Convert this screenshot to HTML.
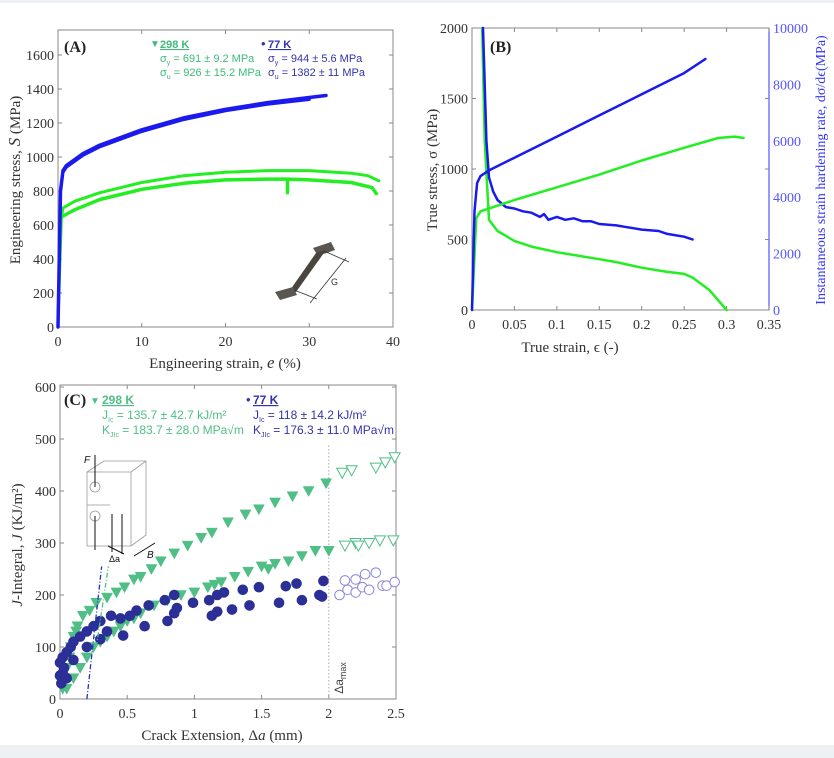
<!DOCTYPE html>
<html><head><meta charset="utf-8">
<style>
body{margin:0;background:#fff;}
svg{display:block;font-family:"Liberation Serif",serif;}
.s{font-family:"Liberation Sans",sans-serif;}
</style></head>
<body>
<svg id="fig" width="834" height="758" viewBox="0 0 834 758">
<rect x="0" y="0" width="834" height="3" fill="#eef1f4"/>
<rect x="0" y="745" width="834" height="13" fill="#eef1f4"/>
<g id="gA"></g>
<g id="gB"></g>
<g id="gC"></g>
</svg>
<script>
// ---- Panel A data ----
const aXTicks=[0,10,20,30,40];
const aYTicks=[0,200,400,600,800,1000,1200,1400,1600];
const aBlue1X=[0,0.3,0.6,1,3,5,10,15,20,25,30,32];
const aBlue1Y=[0,800,920,950,1020,1070,1160,1230,1280,1320,1350,1362];
const aBlue2X=[0.6,1,3,5,10,15,20,25,30];
const aBlue2Y=[910,940,1010,1060,1150,1220,1272,1310,1338];
const aGreen1X=[0,0.4,0.6,2,5,10,15,20,25,30,35,37,38.3];
const aGreen1Y=[40,650,700,740,790,850,890,910,920,920,905,890,860];
const aGreen2X=[0.5,2,5,10,15,20,25,27.4,27.4,27.4,30,35,37.5,38];
const aGreen2Y=[650,690,750,810,845,865,870,870,790,870,865,850,820,785];
// ---- Panel B data ----
const bXTicks=[0,0.05,0.1,0.15,0.2,0.25,0.3,0.35];
const bYTicks=[0,500,1000,1500,2000];
const bY2Ticks=[0,2000,4000,6000,8000,10000];
const bGreenSX=[0,0.005,0.01,0.05,0.1,0.15,0.2,0.25,0.29,0.31,0.32];
const bGreenSY=[0,650,700,780,870,960,1060,1150,1220,1230,1220];
const bBlueSX=[0,0.003,0.006,0.01,0.02,0.05,0.1,0.15,0.2,0.25,0.275];
const bBlueSY=[0,700,900,950,990,1080,1230,1380,1530,1680,1780];
const bGreenHX=[0.012,0.015,0.02,0.03,0.05,0.07,0.1,0.12,0.15,0.17,0.2,0.23,0.25,0.26,0.28,0.3];
const bGreenHY=[10000,6000,3200,2800,2450,2250,2050,1950,1800,1700,1500,1350,1280,1150,700,0];
const bBlueHX=[0.013,0.017,0.02,0.025,0.03,0.04,0.05,0.06,0.07,0.08,0.085,0.09,0.1,0.11,0.12,0.13,0.14,0.15,0.17,0.18,0.2,0.22,0.23,0.25,0.26];
const bBlueHY=[10000,6000,4700,4200,3900,3650,3600,3500,3450,3300,3400,3200,3300,3200,3250,3150,3150,3050,3000,2950,2850,2800,2700,2600,2500];
// ---- Panel C data ----
const cXTicks=[0,0.5,1,1.5,2,2.5];
const cXLabels=["0","0.5","1","1.5","2","2.5"];
const cYTicks=[0,100,200,300,400,500,600];
const cG1X=[0.35,0.42,0.48,0.55,0.6,0.68,0.75,0.85,0.95,1.05,1.13,1.25,1.38,1.48,1.6,1.73,1.85,1.98];
const cG1Y=[195,205,215,230,235,250,265,280,295,310,320,340,355,365,378,390,400,415];
const cG1OX=[2.1,2.17,2.35,2.42,2.49];
const cG1OY=[435,440,445,455,465];
const cG2X=[0.3,0.35,0.4,0.45,0.5,0.55,0.6,0.7,0.8,0.9,1.0,1.1,1.15,1.2,1.3,1.4,1.5,1.55,1.6,1.7,1.8,1.9,2.0,0.02,0.05,0.08,0.1,0.13,0.17,0.22,0.27,0.05,0.1,0.15,0.2,0.25,0.03,0.07,0.12];
const cG2Y=[110,120,130,140,150,155,165,180,190,200,205,215,220,225,235,245,255,250,260,265,275,285,285,20,60,100,120,140,160,170,185,20,40,60,80,100,40,80,130];
const cG2OX=[2.12,2.2,2.22,2.3,2.38,2.48];
const cG2OY=[295,300,295,300,305,305];
const cBX=[0,0.02,0.05,0.08,0.1,0.15,0.2,0.25,0.3,0.38,0.45,0.35,0.3,0.47,0.52,0.57,0.63,0.66,0.78,0.8,0.85,0.87,0.85,0.99,1.11,1.13,1.17,1.17,1.22,1.28,1.36,1.41,1.48,1.63,1.68,1.76,1.8,1.93,1.95,1.96,0.01,0.02,0.03,0.05,0.0,0.1,0.2];
const cBY=[70,50,90,100,110,120,130,140,150,160,155,130,115,122,160,170,140,180,190,150,165,175,200,185,190,160,168,200,205,172,210,180,215,185,217,222,190,200,197,227,30,80,60,40,45,75,100];
const cBOX=[2.08,2.12,2.14,2.2,2.2,2.25,2.27,2.3,2.35,2.4,2.43,2.49];
const cBOY=[200,228,210,205,230,215,240,210,243,218,218,225];

const NS="http://www.w3.org/2000/svg";
function mk(par,tag,at,txt){const e=document.createElementNS(NS,tag);for(const k in at)e.setAttribute(k,at[k]);if(txt!==undefined)e.textContent=txt;par.appendChild(e);return e;}
function lin(d0,d1,r0,r1){return v=>r0+(v-d0)*(r1-r0)/(d1-d0);}
function pathD(xs,ys,sx,sy){return xs.map((x,i)=>(i?'L':'M')+sx(x).toFixed(1)+','+sy(ys[i]).toFixed(1)).join('');}
function box(g,x0,y0,x1,y1){
  const r=mk(g,'rect',{x:x0,y:y0,width:x1-x0,height:y1-y0,fill:'none',stroke:'#888','stroke-width':1});
  
  
}
function xAxis(g,ticks,labels,sx,y0,y1,name){
  ticks.forEach((t,i)=>{
    mk(g,'line',{x1:sx(t),x2:sx(t),y1:y1,y2:y1-4,stroke:'#888'});
    mk(g,'line',{x1:sx(t),x2:sx(t),y1:y0,y2:y0+4,stroke:'#888'});
    const tx=mk(g,'text',{x:sx(t),y:y1+19,'font-size':14,'text-anchor':'middle',fill:'#333'},labels[i]);
    
    
  });
}
function yAxis(g,ticks,sy,x0,x1,name,col,right){
  ticks.forEach(t=>{
    mk(g,'line',{x1:x0,x2:x0+4,y1:sy(t),y2:sy(t),stroke:'#888'});
    mk(g,'line',{x1:x1,x2:x1-4,y1:sy(t),y2:sy(t),stroke:'#888'});
    const tx=mk(g,'text',{x:right?x1+4:x0-4,y:sy(t)+5,'font-size':14,'text-anchor':right?'start':'end',fill:col||'#333'},String(t));
    
    
  });
}
function line(g,xs,ys,sx,sy,col,w,name){
  const p=mk(g,'path',{d:pathD(xs,ys,sx,sy),fill:'none',stroke:col,'stroke-width':w,'stroke-linejoin':'round','stroke-linecap':'round'});
  
  
}
function sub(par,x,y,col,a,s,b){const t=mk(par,'text',{x:x,y:y,fill:col},a);mk(t,'tspan',{'font-size':7,dy:3},s);mk(t,'tspan',{dy:-3},b);return t;}
// ===== Panel A =====
(function(){
const g=document.getElementById('gA');
const sx=lin(0,40,58,393), sy=lin(0,1600,327,55);
box(g,58,30,393,327);
xAxis(g,aXTicks,aXTicks.map(String),sx,30,327,'a-x');
yAxis(g,aYTicks,sy,58,393,'a-y');
line(g,aGreen1X,aGreen1Y,sx,sy,'#22ee22',3,'a-298k-curve-1');
line(g,aGreen2X,aGreen2Y,sx,sy,'#22ee22',3.5,'a-298k-curve-2');
line(g,aBlue2X,aBlue2Y,sx,sy,'#1a1aee',3,'a-77k-curve-2');
line(g,aBlue1X,aBlue1Y,sx,sy,'#1a1aee',3.5,'a-77k-curve-1');
let t=mk(g,'text',{x:64,y:52,'font-size':16,'font-weight':'bold',fill:'#222'},'(A)');

t=mk(g,'text',{x:225,y:368,'font-size':15,'text-anchor':'middle',fill:'#333'},'Engineering strain, ');
mk(t,'tspan',{'font-style':'italic','font-size':17},'e');mk(t,'tspan',{},' (%)');

t=mk(g,'text',{transform:'translate(20,180) rotate(-90)','font-size':15,'text-anchor':'middle',fill:'#333'},'Engineering stress, ');
mk(t,'tspan',{'font-style':'italic','font-size':17},'S');mk(t,'tspan',{},' (MPa)');

const lg=mk(g,'g',{class:'s','font-size':11});

mk(lg,'text',{x:150,y:47,fill:'#3dbb7a','font-size':10},'▼');
mk(lg,'text',{x:160,y:48,fill:'#3dbb7a','font-weight':'bold','text-decoration':'underline'},'298 K');
sub(lg,160,62,'#3dbb7a','σ','y',' = 691 ±  9.2 MPa');
sub(lg,160,76,'#3dbb7a','σ','u',' = 926 ± 15.2 MPa');
mk(lg,'text',{x:261,y:48,fill:'#3333aa','font-size':13},'•');
mk(lg,'text',{x:268,y:48,fill:'#3333aa','font-weight':'bold','text-decoration':'underline'},'77 K');
sub(lg,268,62,'#3333aa','σ','y',' = 944 ± 5.6 MPa');
sub(lg,268,76,'#3333aa','σ','u',' = 1382 ± 11 MPa');
// specimen inset
const ins=mk(g,'g',{});

mk(ins,'polygon',{points:'313,248 331,242 335,250 318,256',fill:'#5a5650'});
mk(ins,'polygon',{points:'316,253 326,250 296,292 288,293',fill:'#4a463f'});
mk(ins,'polygon',{points:'275,292 293,287 297,295 280,300',fill:'#5a5650'});
mk(ins,'line',{x1:324,y1:251,x2:349,y2:262,stroke:'#333','stroke-width':0.8});
mk(ins,'line',{x1:294,y1:290,x2:317,y2:299,stroke:'#333','stroke-width':0.8});
mk(ins,'line',{x1:346,y1:258,x2:310,y2:303,stroke:'#333','stroke-width':0.8});
mk(ins,'text',{x:331,y:285,'font-size':9,class:'s',fill:'#333'},'G');
})();
// ===== Panel B =====
(function(){
const g=document.getElementById('gB');
const sx=lin(0,0.35,472,769), sy=lin(0,2000,310,28), sy2=lin(0,10000,310,28);
box(g,472,28,769,310);
mk(g,'line',{x1:769,x2:769,y1:28,y2:310,stroke:'#5555ff','stroke-width':1.2});
xAxis(g,bXTicks,bXTicks.map(String),sx,28,310,'b-x');
yAxis(g,bYTicks,sy,472,769,'b-y');
bY2Ticks.forEach(t=>{const tx=mk(g,'text',{x:773,y:sy2(t)+5,'font-size':14,fill:'#5555ff'},String(t));
});
line(g,bGreenHX,bGreenHY,sx,sy2,'#22ee22',2.5,'b-298k-hardening-rate');
line(g,bBlueHX,bBlueHY,sx,sy2,'#1a1aee',2.5,'b-77k-hardening-rate');
line(g,bGreenSX,bGreenSY,sx,sy,'#22ee22',2.5,'b-298k-true-stress');
line(g,bBlueSX,bBlueSY,sx,sy,'#1a1aee',2.5,'b-77k-true-stress');
let t=mk(g,'text',{x:490,y:52,'font-size':16,'font-weight':'bold',fill:'#222'},'(B)');

t=mk(g,'text',{x:570,y:352,'font-size':15,'text-anchor':'middle',fill:'#333'},'True strain, ϵ (-)');

t=mk(g,'text',{transform:'translate(437,170) rotate(-90)','font-size':15,'text-anchor':'middle',fill:'#333'},'True stress, σ (MPa)');

t=mk(g,'text',{transform:'translate(825,170) rotate(-90)','font-size':14,'text-anchor':'middle',fill:'#3333ff'},'Instantaneous strain hardening rate, dσ/dϵ(MPa)');

})();
// ===== Panel C =====
(function(){
const g=document.getElementById('gC');
const sx=lin(0,2.5,60,396), sy=lin(0,600,699,387);
box(g,60,385,396,699);
xAxis(g,cXTicks,cXLabels,sx,385,699,'c-x');
yAxis(g,cYTicks,sy,60,396,'c-y');
mk(g,'line',{x1:sx(2),x2:sx(2),y1:sy(0),y2:sy(490),stroke:'#aaa','stroke-dasharray':'1.5,2'});
const tri=(x,y,fill,name)=>{const cx=sx(x),cy=sy(y);
 const p=mk(g,'polygon',{points:`${cx-5.5},${cy-4.5} ${cx+5.5},${cy-4.5} ${cx},${cy+5.5}`,fill:fill?'#4fbf86':'#fff',stroke:'#4fbf86','stroke-width':fill?0.5:1});
 };
const cir=(x,y,fill,name)=>{const c=mk(g,'circle',{cx:sx(x),cy:sy(y),r:4.8,fill:fill?'#2b2f96':'#fff',stroke:fill?'#2b2f96':'#8a88d8','stroke-width':1});
 };
cG2X.forEach((x,i)=>tri(x,cG2Y[i],true,'c-298k-point'));
cG1X.forEach((x,i)=>tri(x,cG1Y[i],true,'c-298k-point'));
cG1OX.forEach((x,i)=>tri(x,cG1OY[i],false,'c-298k-invalid-point'));
cG2OX.forEach((x,i)=>tri(x,cG2OY[i],false,'c-298k-invalid-point'));
cBX.forEach((x,i)=>cir(x,cBY[i],true,'c-77k-point'));
cBOX.forEach((x,i)=>cir(x,cBOY[i],false,'c-77k-invalid-point'));
let l=mk(g,'line',{x1:sx(0.2),y1:sy(0),x2:sx(0.31),y2:sy(255),stroke:'#2233bb','stroke-width':1.3,'stroke-dasharray':'5,2,1,2'});

l=mk(g,'line',{x1:sx(0.27),y1:sy(100),x2:sx(0.36),y2:sy(255),stroke:'#4fbf86','stroke-width':1.3,'stroke-dasharray':'5,2,1,2'});

let t=mk(g,'text',{transform:`translate(${sx(2)+14},${sy(10)}) rotate(-90)`,'font-size':12,class:'s',fill:'#444'},'Δa');
mk(t,'tspan',{'font-size':9,dy:3},'max');

t=mk(g,'text',{x:64,y:405,'font-size':16,'font-weight':'bold',fill:'#222'},'(C)');

t=mk(g,'text',{x:222,y:740,'font-size':15,'text-anchor':'middle',fill:'#333'},'Crack Extension, Δ');
mk(t,'tspan',{'font-style':'italic'},'a');mk(t,'tspan',{},' (mm)');

t=mk(g,'text',{transform:'translate(22,545) rotate(-90)','font-size':15,'text-anchor':'middle',fill:'#333'},'');
mk(t,'tspan',{'font-style':'italic'},'J');mk(t,'tspan',{},'-Integral, ');mk(t,'tspan',{'font-style':'italic'},'J');mk(t,'tspan',{},' (KJ/m²)');

const lg=mk(g,'g',{class:'s','font-size':12});

mk(lg,'text',{x:90,y:404,fill:'#4fbf86','font-size':10},'▼');
mk(lg,'text',{x:102,y:404,fill:'#4fbf86','font-weight':'bold','text-decoration':'underline'},'298 K');
sub(lg,102,419,'#4fbf86','J','Ic',' = 135.7 ± 42.7 kJ/m²');
sub(lg,102,434,'#4fbf86','K','JIc',' = 183.7 ± 28.0 MPa√m');
mk(lg,'text',{x:246,y:404,fill:'#3333aa','font-size':13},'•');
mk(lg,'text',{x:253,y:404,fill:'#3333aa','font-weight':'bold','text-decoration':'underline'},'77 K');
sub(lg,253,419,'#3333aa','J','Ic',' = 118 ± 14.2 kJ/m²');
sub(lg,253,434,'#3333aa','K','JIc',' = 176.3 ± 11.0 MPa√m');
const ins=mk(g,'g',{fill:'none',stroke:'#999','stroke-width':0.8});

mk(ins,'polygon',{points:'87,472 131,472 131,546 87,546'});
mk(ins,'polyline',{points:'87,472 104,461 146,461 146,535 131,546'});
mk(ins,'line',{x1:131,y1:472,x2:146,y2:461});
mk(ins,'line',{x1:87,y1:505,x2:110,y2:505});
mk(ins,'circle',{cx:95,cy:487,r:5});mk(ins,'circle',{cx:95,cy:516,r:5});
const ar=mk(g,'g',{stroke:'#111','stroke-width':1,fill:'#111'});
mk(ar,'line',{x1:95,y1:455,x2:95,y2:487});mk(ar,'line',{x1:95,y1:516,x2:95,y2:550});
mk(ar,'line',{x1:112,y1:514,x2:112,y2:552});mk(ar,'line',{x1:122,y1:514,x2:122,y2:554});
mk(ar,'line',{x1:108,y1:546,x2:124,y2:554});mk(ar,'line',{x1:134,y1:556,x2:155,y2:543});
mk(g,'text',{x:84,y:463,'font-size':10,'font-style':'italic',class:'s',fill:'#111'},'F');
mk(g,'text',{x:109,y:562,'font-size':9,class:'s',fill:'#111'},'Δa');
mk(g,'text',{x:147,y:558,'font-size':10,'font-style':'italic',class:'s',fill:'#111'},'B');
})();
</script>
</body></html>
